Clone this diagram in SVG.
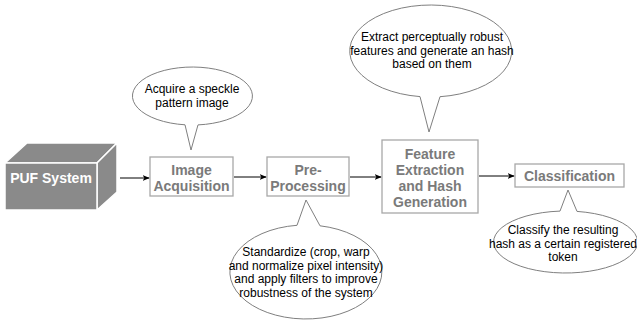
<svg xmlns="http://www.w3.org/2000/svg" width="637" height="326" viewBox="0 0 637 326">
<defs>
<marker id="arr" viewBox="0 0 10 10" refX="9" refY="5" markerWidth="7" markerHeight="7" markerUnits="userSpaceOnUse" orient="auto">
<path d="M0,1 L10,5 L0,9 L2.5,5 Z" fill="#000"/>
</marker>
<style>
.box{fill:#fff;stroke:#a8a8a8;stroke-width:1.3}
.bt{font-family:"Liberation Sans",Arial,sans-serif;font-weight:bold;font-size:14px;fill:#7a7a7a;text-anchor:middle}
.co{fill:#fff;stroke:#7f7f7f;stroke-width:1}
.ct{font-family:"Liberation Sans",Arial,sans-serif;font-size:12px;fill:#000;text-anchor:middle}
.cube{fill:#8a8a8a;stroke:#fff;stroke-width:1.5;stroke-linejoin:round}
.edge{stroke:#000;stroke-width:1;fill:none;marker-end:url(#arr)}
</style>
</defs>
<rect width="637" height="326" fill="#fff"/>

<g id="puf">
<polygon class="cube" points="5,163 27,143 117,143 97,163"/>
<polygon class="cube" points="97,163 117,143 117,192 97,210"/>
<rect class="cube" x="5" y="163" width="92" height="47"/>
<text x="51" y="183" font-family="Liberation Sans, Arial, sans-serif" font-weight="bold" font-size="14" fill="#fff" text-anchor="middle">PUF System</text>
</g>

<g id="acq">
<rect class="box" x="150" y="157" width="83" height="39"/>
<text class="bt" x="191.5" y="175">Image</text>
<text class="bt" x="191.5" y="191">Acquisition</text>
</g>

<g id="pre">
<rect class="box" x="267" y="157" width="82" height="39"/>
<text class="bt" x="308" y="175">Pre-</text>
<text class="bt" x="308" y="191">Processing</text>
</g>

<g id="feat">
<rect class="box" x="382" y="140" width="96" height="73"/>
<text class="bt" x="430" y="159">Feature</text>
<text class="bt" x="430" y="175">Extraction</text>
<text class="bt" x="430" y="191">and Hash</text>
<text class="bt" x="430" y="207">Generation</text>
</g>

<g id="cls">
<rect class="box" x="515" y="164" width="109" height="23"/>
<text class="bt" x="569.5" y="180.5">Classification</text>
</g>

<g id="callout-acq">
<path class="co" d="M185,124.8 L191,150 L198,124.9 A60,29 0 1 0 185,124.8 Z"/>
<text class="ct" x="192" y="93">Acquire a speckle</text>
<text class="ct" x="192" y="106.5">pattern image</text>
</g>

<g id="callout-feat">
<path class="co" d="M420,96.6 L429,132 L440,96.7 A81,46 0 1 0 420,96.6 Z"/>
<text class="ct" x="432" y="41">Extract perceptually robust</text>
<text class="ct" x="432" y="54.5">features and generate an hash</text>
<text class="ct" x="432" y="68">based on them</text>
</g>

<g id="callout-pre">
<path class="co" d="M297,225.3 L306,200 L320,225.8 A76,47 0 1 1 297,225.3 Z"/>
<text class="ct" x="306" y="256">Standardize (crop, warp</text>
<text class="ct" x="306" y="269.5">and normalize pixel intensity)</text>
<text class="ct" x="306" y="283">and apply filters to improve</text>
<text class="ct" x="306" y="296.5">robustness of the system</text>
</g>

<g id="callout-cls">
<path class="co" d="M560,211.1 L568,190 L577,211.4 A72,31 0 1 1 560,211.1 Z"/>
<text class="ct" x="563" y="234">Classify the resulting</text>
<text class="ct" x="563" y="247.5">hash as a certain registered</text>
<text class="ct" x="563" y="261">token</text>
</g>

<g id="connectors">
<line class="edge" x1="120" y1="178" x2="149" y2="178"/>
<line class="edge" x1="234" y1="177" x2="266" y2="177"/>
<line class="edge" x1="350" y1="177" x2="381" y2="177"/>
<line class="edge" x1="479" y1="176" x2="514" y2="176"/>
</g>
</svg>
